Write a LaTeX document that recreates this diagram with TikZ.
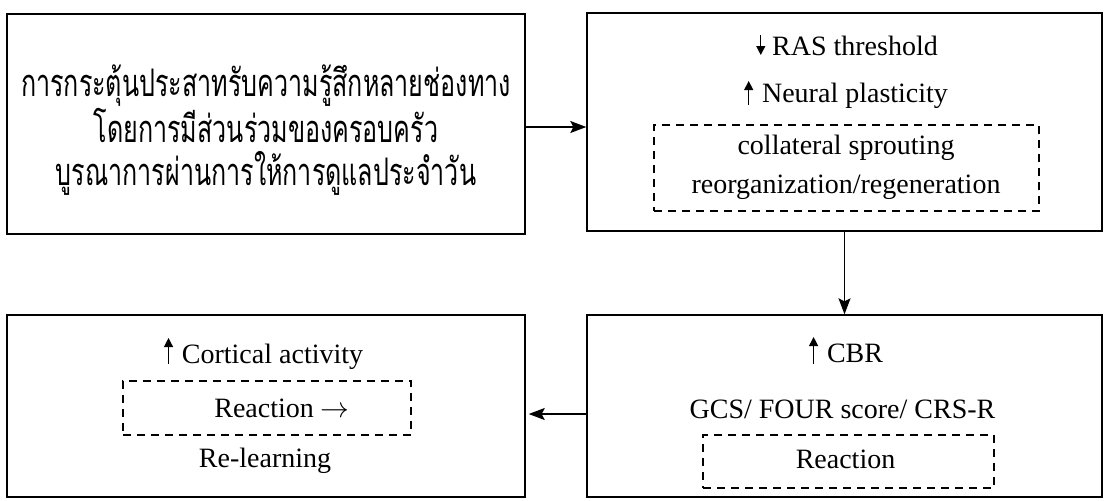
\documentclass[tikz,border=0pt]{standalone}
\usepackage{fontspec}
\setmainfont{Liberation Serif}
\newfontfamily\thaifont[Script=Thai,FakeStretch=0.66]{Loma}
\usetikzlibrary{arrows.meta}

\tikzset{
  box/.style={draw, line width=0.7pt, inner sep=0pt},
  dashbox/.style={draw, line width=0.6pt, dash pattern=on 4pt off 3pt, inner sep=0pt},
  txt/.style={font=\fontsize{14}{17}\selectfont, inner sep=0pt, anchor=base},
  updown/.style={-{Triangle[length=4.5pt,width=4.5pt]}, line width=0.6pt},
}

\begin{document}
\begin{tikzpicture}[x=0.5pt,y=-0.5pt,>={Stealth[length=8pt,width=6pt,inset=1.5pt]}]
    \useasboundingbox (0,0) rectangle (1106,500);
    % main boxes
    \node[box, minimum width=259pt, minimum height=110pt] (stim) at (266,124) {};
    \node[box, minimum width=257.5pt, minimum height=109pt] (ras) at (844.5,122) {};
    \node[box, minimum width=257.5pt, minimum height=91pt] (cbr) at (844.5,406) {};
    \node[box, minimum width=259pt, minimum height=91pt] (cort) at (266,406) {};
    % dashed boxes
    \node[dashbox, minimum width=192.5pt, minimum height=43pt] (plast) at (846.5,168) {};
    \node[dashbox, minimum width=145.5pt, minimum height=26.5pt] (react) at (848.5,461.5) {};
    \node[dashbox, minimum width=144pt, minimum height=27pt] (reactout) at (267,408) {};
    % texts
    \node[inner sep=0pt, align=center, font=\thaifont\fontsize{19}{21.5}\selectfont] (stimtext) at (266,130)
          {การกระตุ้นประสาทรับความรู้สึกหลายช่องทาง\\
           โดยการมีส่วนร่วมของครอบครัว\\
           บูรณาการผ่านการให้การดูแลประจำวัน};
    \node[txt] (rasthr) at (855,55) {RAS threshold};
    \node[txt] (neural) at (855,102) {Neural plasticity};
    \node[txt] (sprout) at (846,154) {collateral sprouting};
    \node[txt] (reorg) at (846,193) {reorganization/regeneration};
    \node[txt] (cbrtext) at (855,362) {CBR};
    \node[txt] (scores) at (842.5,418) {GCS/ FOUR score/ CRS-R};
    \node[txt] (reacttext) at (845.5,468) {Reaction};
    \node[txt] (corttext) at (272.5,363) {Cortical activity};
    \node[txt] (reactarrow) at (282,417) {Reaction $\rightarrow$};
    \node[txt] (relearn) at (265,467) {Re-learning};
    % small up / down marks
    \draw[updown] ([xshift=-5.5pt,yshift=10pt]rasthr.base west) -- ([xshift=-5.5pt]rasthr.base west);
    \draw[updown] ([xshift=-6.5pt,yshift=-1.5pt]neural.base west) -- ([xshift=-6.5pt,yshift=10.5pt]neural.base west);
    \draw[updown] ([xshift=-6.5pt,yshift=-1pt]cbrtext.base west) -- ([xshift=-6.5pt,yshift=12.5pt]cbrtext.base west);
    \draw[updown] ([xshift=-6.5pt,yshift=-0.5pt]corttext.base west) -- ([xshift=-6.5pt,yshift=12.5pt]corttext.base west);
    % connectors
    \draw[->, line width=0.7pt] ([yshift=-1.5pt]stim.east) -- ([yshift=-1.5pt]stim.east -| ras.west);
    \draw[->, line width=0.7pt] (ras.south) -- (cbr.north);
    \draw[->, line width=0.7pt, shorten >=1.5pt] ([yshift=-4pt]cbr.west) -- ([yshift=-4pt]cbr.west -| cort.east);
\end{tikzpicture}
\end{document}
